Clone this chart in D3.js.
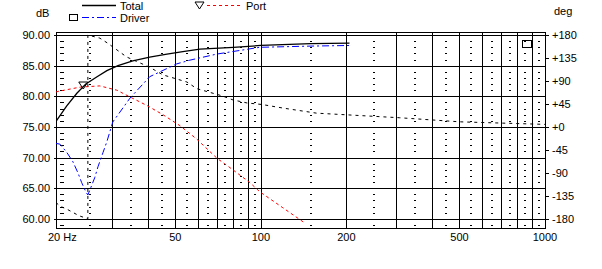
<!DOCTYPE html>
<html>
<head>
<meta charset="utf-8">
<script src="https://cdn.jsdelivr.net/npm/d3@7"></script>
<style>
    html, body { margin: 0; padding: 0; background: #fff; }
    svg { display: block; font-family: Arial, "Liberation Sans", sans-serif; font-size: 11px; }
</style>
</head>
<body>
<div id="chart"></div>
<script>
"use strict"

// ---- data ----
const majorFreqs = [30, 40, 50, 60, 70, 80, 90, 100, 200, 300, 400, 500, 600, 700, 800, 900];
const minorFreqs = [20, 25, 35, 45, 55, 65, 75, 85, 95, 150, 250, 350, 450, 550, 650, 750, 850, 950];
const freqLabels = [[20, "20 Hz"], [50, "50"], [100, "100"], [200, "200"], [500, "500"], [1000, "1000"]];
const dbTicks = [60, 65, 70, 75, 80, 85, 90];
const degTicks = [-180, -135, -90, -45, 0, 45, 90, 135, 180];

const totalFreq = [19.0, 20.7, 22.5, 24.2, 26.5, 28.7, 31.4, 35.4, 40.6, 46.7, 53.1, 61, 80, 100, 150, 205];
const totalDb = [75.9, 78.4, 80.5, 82.0, 83.2, 84.2, 85.0, 85.8, 86.4, 86.9, 87.3, 87.7, 88.0, 88.3, 88.6, 88.7];

const driverFreq = [19.0, 19.6, 20.7, 21.8, 22.7, 23.4, 24.2, 24.6, 25.0, 26.0, 26.7, 27.8, 28.7, 30.1, 34.6, 40.6, 50.6, 56.2, 70, 99, 150, 205];
const driverDb = [72.3, 72.2, 70.9, 69.3, 67.5, 65.9, 64.4, 63.9, 64.7, 66.7, 68.5, 70.8, 72.6, 75.8, 79.7, 83.2, 85.3, 85.9, 86.9, 88.0, 88.2, 88.3];

const portFreq = [19.0, 19.3, 23.1, 27.1, 31.1, 34.6, 39.7, 45.2, 51.9, 59.5, 70.0, 79.7, 91.5, 99.2, 119.5, 142.9];
const portDb = [80.7, 80.8, 81.5, 81.7, 81.0, 79.9, 78.5, 77.0, 75.2, 73.0, 69.9, 68.0, 65.9, 64.4, 61.8, 59.3];

const phaseFreq = [19.0, 19.6, 20.9, 22.9, 24.6, 24.6, 27.1, 28.9, 33.7, 40.6, 45.2, 54.9, 59.5, 72.9, 79.7, 89.3, 100.8, 119.5, 157, 308, 502, 1000];
const phaseDeg = [-148, -155, -162, -174, -180, 180, 174, 164, 137, 117, 102, 88, 75, 61, 53, 47, 44, 37, 27, 18, 10, 5];

const portMarker = [23.7, 81.6];
const driverMarker = [865, 88.5];

// ---- layout ----
const width = 602, height = 269;
const plot = { left: 56, right: 545, top: 32, bottom: 228 };

const x = d3.scaleLog().domain([19, 1000]).range([plot.left, plot.right]);
const y = d3.scaleLinear().domain([58.5, 90.5]).range([plot.bottom, plot.top]);
const yDeg = d3.scaleLinear().domain([-198, 186]).range([plot.bottom, plot.top]);

const svg = d3.select("#chart").append("svg")
    .attr("width", width)
    .attr("height", height);

svg.append("defs").append("clipPath").attr("id", "clip")
    .append("rect")
    .attr("x", plot.left).attr("y", plot.top)
    .attr("width", plot.right - plot.left).attr("height", plot.bottom - plot.top);

const grid = svg.append("g").attr("shape-rendering", "crispEdges").attr("stroke", "#000");

// minor freq lines: small marks at each dB
const dbSteps = d3.range(59, 91);
minorFreqs.forEach(f => {
    const half = f === 20 ? 2 : 1;
    grid.append("g").selectAll("line").data(dbSteps).join("line")
        .attr("x1", Math.round(x(f)) - half).attr("x2", Math.round(x(f)) + half)
        .attr("y1", d => Math.round(y(d)) + 0.5).attr("y2", d => Math.round(y(d)) + 0.5);
});

// major vertical lines
grid.append("g").selectAll("line").data(majorFreqs).join("line")
    .attr("x1", d => Math.round(x(d)) + 0.5).attr("x2", d => Math.round(x(d)) + 0.5)
    .attr("y1", plot.top).attr("y2", plot.bottom);

// horizontal dB lines
grid.append("g").selectAll("line").data(dbTicks).join("line")
    .attr("x1", plot.left).attr("x2", plot.right)
    .attr("y1", d => Math.round(y(d)) + 0.5).attr("y2", d => Math.round(y(d)) + 0.5);

// frame
grid.append("rect")
    .attr("x", plot.left + 0.5).attr("y", plot.top + 0.5)
    .attr("width", plot.right - plot.left).attr("height", plot.bottom - plot.top)
    .attr("fill", "none");

// axis tick marks
grid.append("g").selectAll("line").data(dbTicks).join("line")
    .attr("x1", plot.left - 2).attr("x2", plot.left)
    .attr("y1", d => Math.round(y(d)) + 0.5).attr("y2", d => Math.round(y(d)) + 0.5);
grid.append("g").selectAll("line").data(degTicks).join("line")
    .attr("x1", plot.right).attr("x2", plot.right + 4)
    .attr("y1", d => Math.round(yDeg(d)) + 0.5).attr("y2", d => Math.round(yDeg(d)) + 0.5);

// axis labels
svg.append("g").selectAll("text").data(dbTicks).join("text")
    .attr("x", plot.left - 6).attr("y", d => y(d) + 4)
    .attr("text-anchor", "end")
    .text(d => d.toFixed(2));

svg.append("g").selectAll("text").data(degTicks).join("text")
    .attr("x", plot.right + 7).attr("y", d => yDeg(d) + 4)
    .text(d => (d >= 0 ? "+" : "") + d);

svg.append("g").selectAll("text").data(freqLabels).join("text")
    .attr("x", d => x(d[0])).attr("y", 241)
    .attr("text-anchor", "middle")
    .text(d => d[1]);

svg.append("text").attr("x", 36).attr("y", 17).text("dB");
svg.append("text").attr("x", 554).attr("y", 15).text("deg");

// ---- curves ----
const curves = svg.append("g").attr("clip-path", "url(#clip)").attr("fill", "none");

const dbLine = d3.line().x(d => x(d[0])).y(d => y(d[1]));
const degLine = d3.line().x(d => x(d[0])).y(d => yDeg(d[1]));

curves.append("path")
    .attr("d", degLine(d3.zip(phaseFreq, phaseDeg)))
    .attr("stroke", "#000").attr("stroke-width", 1)
    .attr("stroke-dasharray", "3,4");

curves.append("path")
    .attr("d", dbLine(d3.zip(portFreq, portDb)))
    .attr("stroke", "#f00").attr("stroke-width", 1)
    .attr("stroke-dasharray", "3,3");

curves.append("path")
    .attr("d", dbLine(d3.zip(driverFreq, driverDb)))
    .attr("stroke", "#00f").attr("stroke-width", 1)
    .attr("stroke-dasharray", "7,3,2,3");

curves.append("path")
    .attr("d", dbLine(d3.zip(totalFreq, totalDb)))
    .attr("stroke", "#000").attr("stroke-width", 1.3);

// markers
const triangle = (cx, cy) => `M${cx - 4.5},${cy - 3.5}L${cx + 4.5},${cy - 3.5}L${cx},${cy + 3.5}Z`;
svg.append("path")
    .attr("d", triangle(x(portMarker[0]), y(portMarker[1]) - 1))
    .attr("fill", "none").attr("stroke", "#000");
svg.append("rect")
    .attr("x", Math.round(x(driverMarker[0])) - 4.5).attr("y", Math.round(y(driverMarker[1])) - 3.5)
    .attr("width", 9).attr("height", 7)
    .attr("fill", "none").attr("stroke", "#000");

// ---- legend ----
const legend = svg.append("g");
legend.append("line").attr("x1", 82).attr("x2", 116).attr("y1", 5.5).attr("y2", 5.5)
    .attr("stroke", "#000").attr("stroke-width", 1.3);
legend.append("text").attr("x", 120).attr("y", 10).text("Total");

legend.append("rect").attr("x", 69.5).attr("y", 14.5).attr("width", 8).attr("height", 6)
    .attr("fill", "none").attr("stroke", "#000");
legend.append("line").attr("x1", 82).attr("x2", 116).attr("y1", 17.5).attr("y2", 17.5)
    .attr("stroke", "#00f").attr("stroke-dasharray", "7,3,2,3");
legend.append("text").attr("x", 120).attr("y", 22).text("Driver");

legend.append("path").attr("d", triangle(199.5, 5.5)).attr("fill", "none").attr("stroke", "#000");
legend.append("line").attr("x1", 207).attr("x2", 242).attr("y1", 5.5).attr("y2", 5.5)
    .attr("stroke", "#f00").attr("stroke-dasharray", "3,3");
legend.append("text").attr("x", 246).attr("y", 10).text("Port");
</script>
</body>
</html>
